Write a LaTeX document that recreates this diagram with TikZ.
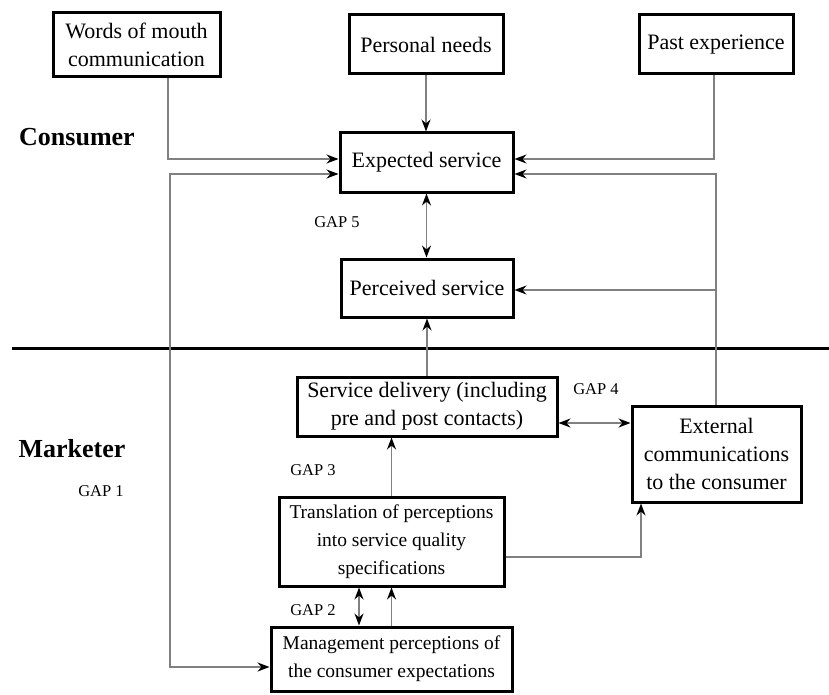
\documentclass[tikz,border=0pt]{standalone}
\usepackage{fontspec}
\setmainfont{Liberation Serif}
\usetikzlibrary{arrows.meta}
\begin{document}
\begin{tikzpicture}[x=1pt,y=-1pt,
  box/.style={draw=black,line width=3pt,inner sep=0pt,align=center,
    font=\fontsize{22}{28}\selectfont},
  smalltext/.style={font=\fontsize{19.5}{28}\selectfont},
  conn/.style={draw=black!50,line width=1.5pt,
    -{Stealth[length=12pt,width=9pt,black]}},
  dconn/.style={draw=black!50,line width=1.5pt,
    {Stealth[length=12pt,width=9pt,black]}-{Stealth[length=12pt,width=9pt,black]}},
  side/.style={font=\fontsize{26}{30}\selectfont\bfseries},
  gap/.style={font=\fontsize{16.5}{18}\selectfont}]
\useasboundingbox (0,0) rectangle (829,695);

% consumer side
\node[box,minimum width=167pt,minimum height=64pt] (wom) at (136.5,45) {Words of mouth\\communication};
\node[box,minimum width=154pt,minimum height=59pt] (pn) at (426,44.5) {Personal needs};
\node[box,minimum width=154pt,minimum height=59pt] (pe) at (716,44.5) {Past experience};
\node[box,minimum width=173pt,minimum height=59pt] (es) at (426.5,162.5) {Expected service};
\node[box,minimum width=172pt,minimum height=58pt] (ps) at (427,288) {Perceived service};

% marketer side
\node[box,minimum width=260pt,minimum height=59pt] (sd) at (427,406.5) {Service delivery (including\\pre and post contacts)};
\node[box,minimum width=169pt,minimum height=96pt] (ec) at (716.5,454) {External\\communications\\to the consumer};
\node[box,smalltext,minimum width=225pt,minimum height=89pt] (tr) at (391.5,541.5) {Translation of perceptions\\into service quality\\specifications};
\node[box,smalltext,minimum width=241pt,minimum height=64pt] (mp) at (391.5,659) {Management perceptions of\\the consumer expectations};

% labels
\node[side] (lcons) at (77,137) {Consumer};
\node[side] (lmark) at (72,449) {Marketer};
\node[gap] (g5) at (337,222) {GAP 5};
\node[gap] (g4) at (596,389) {GAP 4};
\node[gap] (g3) at (313,470) {GAP 3};
\node[gap] (g2) at (313,610) {GAP 2};
\node[gap] (g1) at (101,491) {GAP 1};

% divider between consumer and marketer
\draw[line width=3pt] (12,348) coordinate (dl) -- (829,348) coordinate (dr);

% connectors
\coordinate (c1) at (170,667);
\draw[conn] ([xshift=31.5pt]wom.south) |- ([yshift=3.5pt]es.west);
\draw[dconn] ([yshift=-11.5pt]es.west) -| (c1) |- ([yshift=-8pt]mp.west);
\draw[conn] (pn.south) -- (pn.south |- es.north);
\draw[conn] ([xshift=-2pt]pe.south) |- ([yshift=3.5pt]es.east);
\draw[conn] ([xshift=-0.5pt]ec.north) |- ([yshift=-11.5pt]es.east);
\draw[conn] ([yshift=-2pt]ps.east -| ec.north) -- ([yshift=-2pt]ps.east);
\draw[dconn] (es.south) -- (es.south |- ps.north);
\draw[conn] (sd.north) -- (sd.north |- ps.south);
\draw[conn] (tr.north) -- (tr.north |- sd.south);
\draw[dconn] ([yshift=-16.5pt]sd.east) -- ([yshift=-16.5pt]sd.east -| ec.west);
\draw[conn] ([yshift=-15.5pt]tr.east) -| ([xshift=-75.5pt]ec.south);
\draw[dconn] ([xshift=-32.5pt]tr.south) -- ([xshift=-32.5pt]tr.south |- mp.north);
\draw[conn] (mp.north) -- (mp.north |- tr.south);
\end{tikzpicture}
\end{document}
